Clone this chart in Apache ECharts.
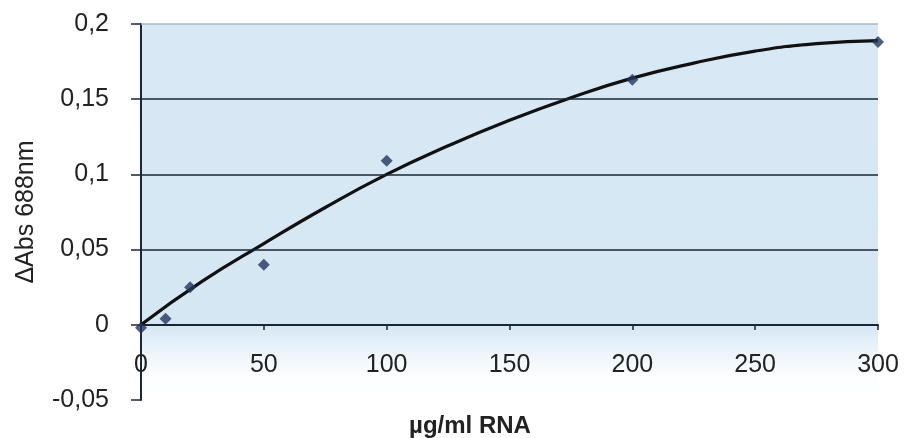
<!DOCTYPE html>
<html>
<head>
<meta charset="utf-8">
<script src="https://cdn.jsdelivr.net/npm/echarts@6/dist/echarts.min.js"></script>
<style>
html,body{margin:0;padding:0;background:#fff;}
#chart{width:910px;height:438px;}
</style>
</head>
<body>
<div id="chart"></div>
<script>
// Measured points (µg/ml RNA vs ΔAbs 688nm)
const concentrations = [0, 10, 20, 50, 100, 200, 300];
const deltaAbs = [-0.002, 0.004, 0.025, 0.04, 0.109, 0.163, 0.188];
// Trend curve
const trendX = [0, 25, 50, 75, 100, 125, 150, 175, 200, 225, 250, 275, 300];
const trendY = [0.0, 0.029, 0.054, 0.078, 0.100, 0.119, 0.136, 0.151, 0.164, 0.174, 0.182, 0.187, 0.189];
// Tick labels
const yTickLabels = ['-0,05', '0', '0,05', '0,1', '0,15', '0,2'];
const xTickLabels = ['0', '50', '100', '150', '200', '250', '300'];
const gridValues = [0.05, 0.1, 0.15];
const topValue = 0.2;

const FONT = '"Liberation Sans", Arial, sans-serif';
const dark = '#1a2734';

const chart = echarts.init(document.getElementById('chart'));
chart.setOption({
  animation: false,
  backgroundColor: '#ffffff',
  grid: {
    left: 141, right: 32, top: 24, bottom: 38,
    outerBoundsMode: 'none', containLabel: false,
    show: true, borderWidth: 0,
    backgroundColor: {
      type: 'linear', x: 0, y: 0, x2: 0, y2: 1,
      colorStops: [
        {offset: 0, color: '#d8e8f5'},
        {offset: 0.8, color: '#d6e7f4'},
        {offset: 0.86, color: '#e9f2fa'},
        {offset: 0.93, color: '#fbfdff'},
        {offset: 1, color: '#ffffff'}
      ]
    }
  },
  xAxis: {
    type: 'value', min: 0, max: 300, interval: 50,
    offset: -75,
    axisLine: {show: true, onZero: false, lineStyle: {color: dark, width: 2}},
    axisTick: {show: true, inside: false, length: 5, lineStyle: {color: dark, width: 1.5}},
    axisLabel: {
      margin: 28, color: '#222', fontFamily: FONT, fontSize: 25,
      formatter: (v, i) => xTickLabels[i]
    },
    splitLine: {show: false}
  },
  yAxis: {
    type: 'value', min: -0.05, max: 0.2, interval: 0.05,
    name: 'ΔAbs 688nm', nameLocation: 'middle', nameGap: 102,
    nameTextStyle: {color: '#222', fontFamily: FONT, fontSize: 25},
    axisLine: {show: true, lineStyle: {color: dark, width: 2}},
    axisTick: {show: true, length: 10, lineStyle: {color: dark, width: 1.5}},
    axisLabel: {
      margin: 32, color: '#222', fontFamily: FONT, fontSize: 25,
      formatter: (v, i) => yTickLabels[i]
    },
    splitLine: {show: false}
  },
  graphic: [{
    type: 'text', x: 470, y: 426,
    style: {
      text: 'µg/ml RNA', fill: '#222', font: 'bold 24px ' + FONT,
      textAlign: 'center', textVerticalAlign: 'middle'
    }
  }],
  series: [
    {
      type: 'line',
      data: trendX.map((x, i) => [x, trendY[i]]),
      smooth: true, showSymbol: false,
      lineStyle: {color: '#111', width: 3.2},
      z: 3,
      markLine: {
        silent: true, symbol: 'none', label: {show: false},
        lineStyle: {color: dark, width: 1.6, type: 'solid'},
        data: gridValues.map(v => ({yAxis: v})).concat([
          {yAxis: topValue, lineStyle: {color: '#a8b8c6', width: 1.5, type: 'solid'}}
        ])
      }
    },
    {
      type: 'scatter',
      data: concentrations.map((x, i) => [x, deltaAbs[i]]),
      symbol: 'diamond', symbolSize: [12, 12],
      itemStyle: {color: '#23345e'},
      z: 4
    }
  ]
});
</script>
</body>
</html>
